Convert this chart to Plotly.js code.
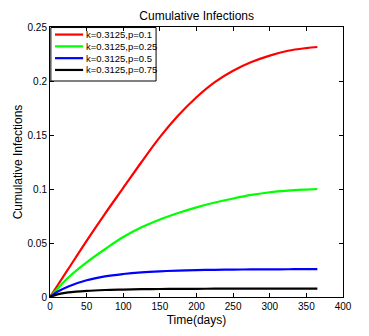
<!DOCTYPE html>
<html>
<head>
<meta charset="utf-8">
<script src="https://cdn.plot.ly/plotly-3.0.1.min.js"></script>
<style>
  html, body { margin: 0; padding: 0; background: #fff; }
  #myplot { width: 369px; height: 336px; }
</style>
</head>
<body>
<div id="myplot"></div>
<script>
// time axis shared by all curves
const days = [0, 10, 25, 50, 75, 100, 125, 150, 175, 200, 225, 250, 275, 300, 325, 350, 365]

// values
const p01 = [0, 0.0104, 0.026, 0.052, 0.077, 0.101, 0.125, 0.148, 0.168, 0.185, 0.199, 0.2095, 0.2175, 0.2235, 0.228, 0.2305, 0.2315]
const p025 = [0, 0.0075, 0.018, 0.032, 0.0442, 0.0555, 0.0645, 0.0718, 0.0778, 0.083, 0.0875, 0.0912, 0.0945, 0.097, 0.0985, 0.0995, 0.100]
const p05 = [0, 0.0048, 0.0098, 0.0155, 0.0191, 0.0213, 0.0228, 0.0238, 0.0245, 0.0249, 0.0252, 0.0254, 0.0255, 0.0256, 0.0257, 0.0258, 0.0258]
const p075 = [0, 0.0024, 0.0042, 0.0057, 0.0065, 0.0069, 0.0072, 0.0074, 0.0075, 0.0076, 0.0077, 0.0077, 0.0078, 0.0078, 0.0078, 0.0078, 0.0078]

const names = ["k=0.3125,p=0.1", "k=0.3125,p=0.25", "k=0.3125,p=0.5", "k=0.3125,p=0.75"]
const colors = ["#ff0000", "#00ff00", "#0000ff", "#000000"]
const series = [p01, p025, p05, p075]

const fontName = "'Liberation Sans Narrow', 'Arial Narrow', 'Liberation Sans', Arial, sans-serif"

let traces = []
for (let i = 0; i < series.length; i++) {
    traces.push({
        x: days,
        y: series[i],
        mode: "lines",
        type: "scatter",
        name: names[i],
        showlegend: false,
        line: {color: colors[i], width: 2.2, shape: "spline", smoothing: 1}
    })
}

// legend drawn by hand, MATLAB style: small box top-left
let shapes = [{
    type: "rect", xref: "paper", yref: "paper",
    x0: 0.003, x1: 0.362, y0: 0.80, y1: 0.998,
    line: {color: "#000", width: 1}, fillcolor: "rgba(255,255,255,0)", layer: "below"
}]
let annotations = []
for (let i = 0; i < names.length; i++) {
    let ypos = 0.972 - i * 0.0437
    shapes.push({
        type: "line", xref: "paper", yref: "paper",
        x0: 0.017, x1: 0.113, y0: ypos, y1: ypos,
        line: {color: colors[i], width: 2.2}
    })
    annotations.push({
        xref: "paper", yref: "paper", x: 0.116, y: ypos,
        xanchor: "left", yanchor: "middle", showarrow: false,
        text: names[i], font: {size: 9.5, color: "#000"}
    })
}

const axisStyle = {
    showline: true,
    linecolor: "#000",
    linewidth: 1,
    mirror: "ticks",
    ticks: "inside",
    ticklen: 4,
    tickcolor: "#000",
    showgrid: false,
    zeroline: false,
    tickfont: {size: 10, color: "#000"}
}

var layout = {
    width: 369,
    height: 336,
    margin: {l: 50, r: 26, t: 27, b: 39},
    paper_bgcolor: "#fff",
    plot_bgcolor: "#fff",
    font: {family: fontName, color: "#000"},
    title: {text: "Cumulative Infections", font: {size: 12}, x: 0.533, xanchor: "center", y: 0.952, yanchor: "middle"},
    xaxis: Object.assign({}, axisStyle, {
        range: [0, 400],
        dtick: 50,
        tick0: 0,
        title: {text: "Time(days)", font: {size: 12}, standoff: 4}
    }),
    yaxis: Object.assign({}, axisStyle, {
        range: [0, 0.25],
        dtick: 0.05,
        tick0: 0,
        title: {text: "Cumulative Infections", font: {size: 12}, standoff: 2}
    }),
    shapes: shapes,
    annotations: annotations,
    showlegend: false
}

Plotly.newPlot("myplot", traces, layout, {displayModeBar: false, staticPlot: true})
</script>
</body>
</html>
